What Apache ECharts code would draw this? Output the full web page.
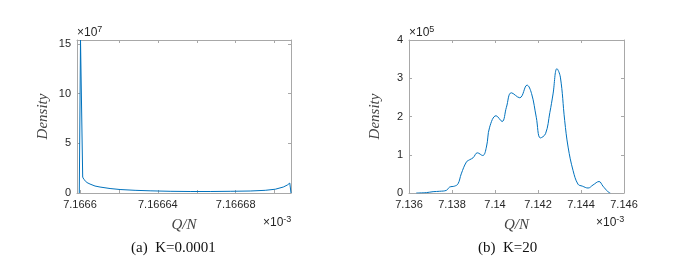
<!DOCTYPE html>
<html>
<head>
<meta charset="utf-8">
<script src="https://cdn.jsdelivr.net/npm/echarts@6/dist/echarts.min.js"></script>
<style>html,body{margin:0;padding:0;background:#fff}#c{width:676px;height:264px}</style>
</head>
<body>
<div id="c"></div>
<script>
// Panel (a) K=0.0001 : Q/N in units of 1e-3, density in units of 1e7
const leftQ = [7.16659964, 7.16660026, 7.16660139, 7.16660206, 7.1666036, 7.16660515, 7.16660772, 7.1666103,
  7.16661544, 7.16662058, 7.1666283, 7.16663602, 7.16664631, 7.1666566, 7.16666689, 7.16667718, 7.16668747,
  7.16669518, 7.16670033, 7.16670444, 7.1667065, 7.16670779, 7.16670841];
const leftDensity = [0, 15.4, 1.6, 1.35, 1.05, 0.9, 0.7, 0.6,
  0.45, 0.35, 0.27, 0.22, 0.17, 0.15, 0.15, 0.17, 0.2,
  0.27, 0.38, 0.6, 0.8, 1.0, 0];
// Panel (b) K=20 : Q/N in units of 1e-3, density in units of 1e5
const rightQ = [7.13634, 7.13681, 7.13712, 7.13743, 7.13774, 7.13789, 7.13812, 7.13828, 7.13843, 7.13867,
  7.13882, 7.13898, 7.13918, 7.13943, 7.1396, 7.13975, 7.14005, 7.14033, 7.14053, 7.14076,
  7.14115, 7.14149, 7.1417, 7.14192, 7.14211, 7.14235, 7.14255, 7.1427, 7.14288, 7.14304, 7.14324,
  7.1434, 7.14363, 7.14386, 7.14406, 7.14433, 7.14456, 7.14484, 7.14502, 7.14526, 7.14536];
const rightDensity = [0, 0.01, 0.035, 0.045, 0.07, 0.155, 0.18, 0.24, 0.5, 0.81,
  0.87, 0.92, 1.05, 0.98, 1.2, 1.72, 2.02, 1.87, 2.24, 2.62,
  2.49, 2.82, 2.6, 1.98, 1.44, 1.55, 2.1, 2.59, 3.25, 3.03, 1.9,
  1.2, 0.59, 0.23, 0.18, 0.13, 0.21, 0.3, 0.18, 0.03, 0];

const leftXRange = [7.16659846, 7.16670841];
const leftXTicks = [7.1666, 7.16662, 7.16664, 7.16666, 7.16668, 7.1667];
const leftXLabels = [7.1666, 7.16664, 7.16668];
const leftYRange = [0, 15.4];
const leftYTicks = [0, 5, 10, 15];
const rightXRange = [7.136, 7.146];
const rightXTicks = [7.136, 7.138, 7.14, 7.142, 7.144, 7.146];
const rightYRange = [0, 4];
const rightYTicks = [0, 1, 2, 3, 4];
const yTitle = 'Density';
const xTitle = 'Q/N';
const captions = ['(a)  K=0.0001', '(b)  K=20'];
const yExp = ['7', '5'];
const xExp = '-3';

const boxColor = '#a8a8a8';
const txt = '#262626';
const lineColor = '#0072BD';
const fmt = v => String(+(+v).toFixed(6));

function xAx(gi, range, ticks, labels, pos) {
  const main = pos === 'bottom';
  return {
    type: 'value', gridIndex: gi, position: pos, min: range[0], max: range[1],
    splitLine: {show: false},
    axisLine: {show: true, onZero: false, lineStyle: {color: boxColor, width: 1}},
    axisTick: {show: true, inside: true, length: 3, customValues: ticks, lineStyle: {color: boxColor}},
    axisLabel: {show: main, customValues: labels, formatter: fmt, color: txt, fontSize: 11,
      fontFamily: 'Liberation Sans, Arial, sans-serif', margin: 6, hideOverlap: false},
    name: main ? xTitle : '', nameLocation: 'middle', nameGap: 25,
    nameTextStyle: {fontFamily: 'Liberation Serif, serif', fontStyle: 'italic', fontSize: 15, color: '#444'}
  };
}
function yAx(gi, range, ticks, pos) {
  const main = pos === 'left';
  return {
    type: 'value', gridIndex: gi, position: pos, min: range[0], max: range[1],
    splitLine: {show: false},
    axisLine: {show: true, onZero: false, lineStyle: {color: boxColor, width: 1}},
    axisTick: {show: true, inside: true, length: 3, customValues: ticks, lineStyle: {color: boxColor}},
    axisLabel: {show: main, customValues: ticks, formatter: fmt, color: txt, fontSize: 11,
      fontFamily: 'Liberation Sans, Arial, sans-serif', margin: 6},
    name: main ? yTitle : '', nameLocation: 'middle', nameGap: 26, nameRotate: 90,
    nameTextStyle: {fontFamily: 'Liberation Serif, serif', fontStyle: 'italic', fontSize: 15, color: '#444'}
  };
}

const expRich = {s: {fontSize: 9, verticalAlign: 'top', padding: [0, 0, 6, 0]}};
const expFont = '12px Liberation Sans, Arial, sans-serif';

const chart = echarts.init(document.getElementById('c'), null, {renderer: 'canvas'});
chart.setOption({
  backgroundColor: '#fff',
  animation: false,
  grid: [
    {left: 77, top: 40, width: 214, height: 153},
    {left: 409, top: 40, width: 215, height: 153}
  ],
  xAxis: [
    xAx(0, leftXRange, leftXTicks, leftXLabels, 'bottom'),
    xAx(0, leftXRange, leftXTicks, leftXLabels, 'top'),
    xAx(1, rightXRange, rightXTicks, rightXTicks, 'bottom'),
    xAx(1, rightXRange, rightXTicks, rightXTicks, 'top')
  ],
  yAxis: [
    yAx(0, leftYRange, leftYTicks, 'left'),
    yAx(0, leftYRange, leftYTicks, 'right'),
    yAx(1, rightYRange, rightYTicks, 'left'),
    yAx(1, rightYRange, rightYTicks, 'right')
  ],
  series: [
    {type: 'line', xAxisIndex: 0, yAxisIndex: 0, showSymbol: false, symbol: 'none',
      data: leftQ.map((q, i) => [q, leftDensity[i]]), lineStyle: {color: lineColor, width: 1}, clip: true},
    {type: 'line', xAxisIndex: 2, yAxisIndex: 2, showSymbol: false, symbol: 'none', smooth: 0.4,
      data: rightQ.map((q, i) => [q, rightDensity[i]]), lineStyle: {color: lineColor, width: 1}, clip: true}
  ],
  graphic: [
    {type: 'text', left: 77, top: 25, style: {text: '×10{s|' + yExp[0] + '}', fill: txt, font: expFont, rich: expRich}},
    {type: 'text', left: 409, top: 25, style: {text: '×10{s|' + yExp[1] + '}', fill: txt, font: expFont, rich: expRich}},
    {type: 'text', left: 263, top: 215, style: {text: '×10{s|' + xExp + '}', fill: txt, font: expFont, rich: expRich}},
    {type: 'text', left: 596, top: 215, style: {text: '×10{s|' + xExp + '}', fill: txt, font: expFont, rich: expRich}},
    {type: 'text', left: 131, top: 241, style: {text: captions[0], fill: '#111',
      font: '15px Liberation Serif, Times New Roman, serif'}},
    {type: 'text', left: 478, top: 241, style: {text: captions[1], fill: '#111',
      font: '15px Liberation Serif, Times New Roman, serif'}}
  ]
});
</script>
</body>
</html>
